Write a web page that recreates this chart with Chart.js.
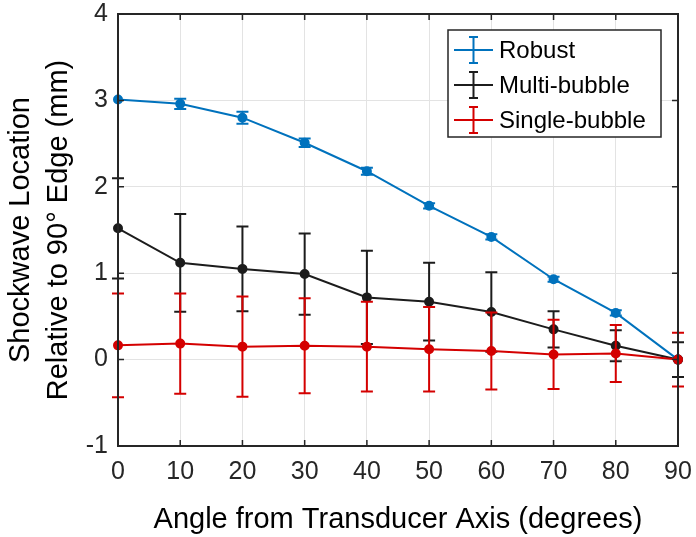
<!DOCTYPE html>
<html>
<head>
<meta charset="utf-8">
<script src="https://cdn.jsdelivr.net/npm/chart.js@4.4.1/dist/chart.umd.min.js"></script>
<style>
  html, body { margin: 0; padding: 0; background: #fff; }
  #wrap { width: 696px; height: 537px; }
</style>
</head>
<body>
<div id="wrap"><canvas id="c" width="696" height="537"></canvas></div>
<script>
// angles (degrees) and shockwave location (mm), error = half-width of the bar
const angles = [0, 10, 20, 30, 40, 50, 60, 70, 80, 90];
const robust = [3.01, 2.96, 2.80, 2.51, 2.18, 1.78, 1.42, 0.93, 0.54, 0.00];
const robustErr = [0.0, 0.06, 0.07, 0.05, 0.04, 0.03, 0.03, 0.03, 0.03, 0.0];
const multi = [1.52, 1.12, 1.05, 0.99, 0.72, 0.67, 0.55, 0.35, 0.16, 0.00];
const multiErr = [0.58, 0.565, 0.49, 0.47, 0.54, 0.45, 0.46, 0.21, 0.18, 0.20];
const single = [0.165, 0.185, 0.15, 0.16, 0.15, 0.12, 0.10, 0.06, 0.07, 0.00];
const singleErr = [0.60, 0.58, 0.58, 0.55, 0.52, 0.49, 0.445, 0.40, 0.33, 0.31];
const seriesNames = ['Robust', 'Multi-bubble', 'Single-bubble'];

const FONT = "'Liberation Sans', Arial, Helvetica, sans-serif";
const COLORS = ['#0072bd', '#1c1c1c', '#d40000'];
const pts = (ys) => angles.map((a, k) => ({ x: a, y: ys[k] }));

const mkSet = (label, ys, err, color, order) => ({
  label,
  data: pts(ys),
  errors: err,
  borderColor: color,
  backgroundColor: color,
  pointBackgroundColor: color,
  pointBorderColor: color,
  pointRadius: 4,
  pointHoverRadius: 4,
  borderWidth: 2,
  showLine: true,
  tension: 0,
  clip: false,
  order,
});

// error bars drawn through the chart scales, right after each dataset
const errorBars = {
  id: 'errorBars',
  afterDatasetDraw(chart, args) {
    const ds = chart.data.datasets[args.index];
    const xs = chart.scales.x, ys = chart.scales.y;
    const ctx = chart.ctx;
    ctx.save();
    ctx.strokeStyle = ds.borderColor;
    ctx.lineWidth = 2;
    ds.data.forEach((p, k) => {
      const e = ds.errors[k];
      if (!e) return;
      const px = xs.getPixelForValue(p.x);
      const y1 = ys.getPixelForValue(p.y + e);
      const y2 = ys.getPixelForValue(p.y - e);
      const cw = 6;
      ctx.beginPath();
      ctx.moveTo(px, y1); ctx.lineTo(px, y2);
      ctx.moveTo(px - cw, y1); ctx.lineTo(px + cw, y1);
      ctx.moveTo(px - cw, y2); ctx.lineTo(px + cw, y2);
      ctx.stroke();
    });
    ctx.restore();
  }
};

// MATLAB-like box with inward ticks, plus the legend
const boxAndLegend = {
  id: 'boxAndLegend',
  afterDraw(chart) {
    const { ctx, chartArea: a } = chart;
    const xs = chart.scales.x, ys = chart.scales.y;
    ctx.save();
    ctx.strokeStyle = '#262626';
    ctx.lineWidth = 2;
    ctx.strokeRect(a.left, a.top, a.right - a.left, a.bottom - a.top);
    ctx.lineWidth = 1.5;
    const tl = 6;
    ctx.beginPath();
    xs.ticks.forEach(t => {
      const px = xs.getPixelForValue(t.value);
      ctx.moveTo(px, a.bottom); ctx.lineTo(px, a.bottom - tl);
      ctx.moveTo(px, a.top); ctx.lineTo(px, a.top + tl);
    });
    ys.ticks.forEach(t => {
      const py = ys.getPixelForValue(t.value);
      ctx.moveTo(a.left, py); ctx.lineTo(a.left + tl, py);
      ctx.moveTo(a.right, py); ctx.lineTo(a.right - tl, py);
    });
    ctx.stroke();

    // legend
    const lx = 448, ly = 30, lw = 213, lh = 107;
    ctx.fillStyle = '#fff';
    ctx.fillRect(lx, ly, lw, lh);
    ctx.strokeStyle = '#262626';
    ctx.lineWidth = 1.5;
    ctx.strokeRect(lx, ly, lw, lh);
    ctx.font = '24px ' + FONT;
    ctx.textBaseline = 'middle';
    ctx.textAlign = 'left';
    seriesNames.forEach((name, k) => {
      const cy = 50 + k * 35;
      const c = COLORS[k];
      ctx.strokeStyle = c;
      ctx.lineWidth = 2;
      ctx.beginPath();
      ctx.moveTo(454, cy); ctx.lineTo(493, cy);
      ctx.moveTo(473.5, cy - 13); ctx.lineTo(473.5, cy + 13);
      ctx.moveTo(469, cy - 13); ctx.lineTo(478, cy - 13);
      ctx.moveTo(469, cy + 13); ctx.lineTo(478, cy + 13);
      ctx.stroke();
      ctx.fillStyle = '#000';
      ctx.fillText(name, 499, cy + 1);
    });
    ctx.restore();
  }
};

new Chart(document.getElementById('c'), {
  type: 'scatter',
  data: {
    datasets: [
      mkSet(seriesNames[0], robust, robustErr, COLORS[0], 2),
      mkSet(seriesNames[1], multi, multiErr, COLORS[1], 1),
      mkSet(seriesNames[2], single, singleErr, COLORS[2], 0),
    ],
  },
  options: {
    responsive: false,
    animation: false,
    events: [],
    layout: { padding: { top: 14, right: 18, left: 0, bottom: 0 } },
    plugins: { legend: { display: false }, tooltip: { enabled: false } },
    scales: {
      x: {
        type: 'linear',
        min: 0, max: 90,
        afterFit: (s) => { s.height = 91; s.paddingLeft = 0; s.paddingRight = 0; },
        ticks: { stepSize: 10, color: '#262626', padding: 11, maxRotation: 0,
                 font: { family: FONT, size: 25 } },
        grid: { color: '#e3e3e3', lineWidth: 1, drawTicks: false },
        border: { display: false },
        title: { display: true, text: 'Angle from Transducer Axis (degrees)', color: '#000',
                 font: { family: FONT, size: 29 }, padding: { top: 3, bottom: 0 } },
      },
      y: {
        min: -1, max: 4,
        afterFit: (s) => { s.width = 118; s.paddingTop = 0; s.paddingBottom = 0; },
        ticks: { stepSize: 1, color: '#262626', padding: 10,
                 font: { family: FONT, size: 25 } },
        grid: { color: '#e3e3e3', lineWidth: 1, drawTicks: false },
        border: { display: false },
        title: { display: true, text: ['Shockwave Location', 'Relative to 90\u00b0 Edge (mm)'],
                 color: '#000', font: { family: FONT, size: 29, lineHeight: 1.3 },
                 padding: { top: 2, bottom: 0 } },
      },
    },
  },
  plugins: [errorBars, boxAndLegend],
});
</script>
</body>
</html>
